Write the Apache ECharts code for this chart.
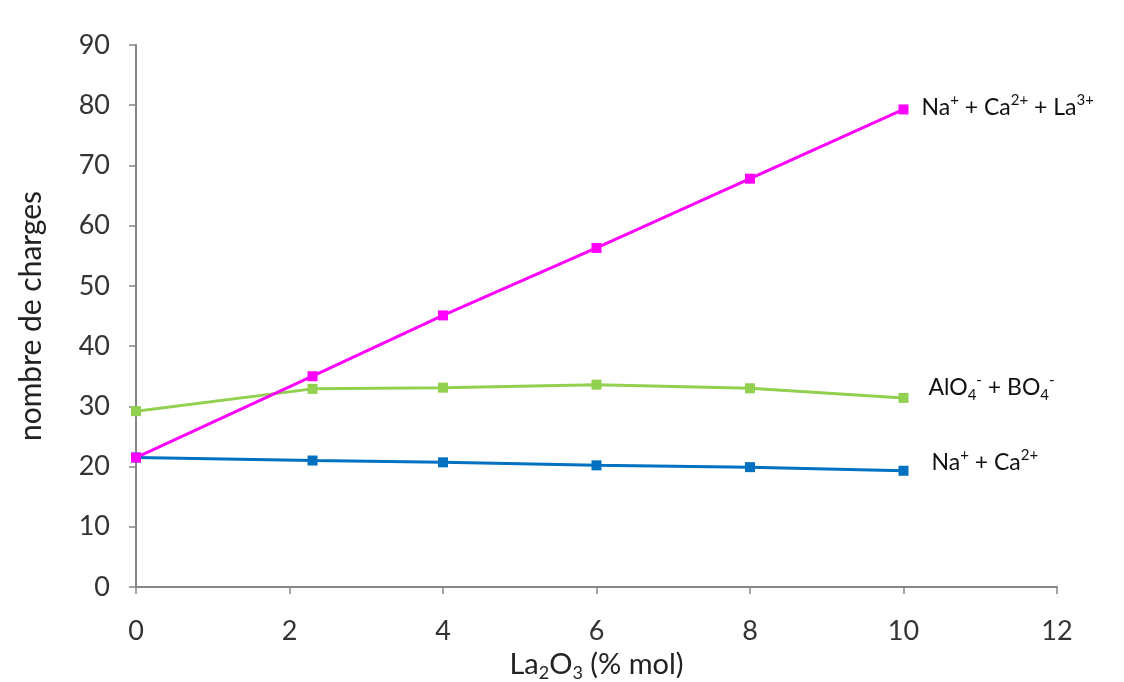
<!DOCTYPE html>
<html>
<head>
<meta charset="utf-8">
<script src="https://cdn.jsdelivr.net/npm/echarts@6/dist/echarts.min.js"></script>
<style>
html,body{margin:0;padding:0;background:#fff;}
#c{width:1124px;height:682px;}
</style>
</head>
<body>
<div id="c"></div>
<script>
var xValues = [0, 2.3, 4, 6, 8, 10];
var naCaLa = [21.5, 35.0, 45.1, 56.3, 67.8, 79.3];
var alBo = [29.2, 32.9, 33.1, 33.6, 33.0, 31.4];
var naCa = [21.5, 21.0, 20.7, 20.2, 19.9, 19.3];
var seriesNames = ['Na+ + Ca2+ + La3+', 'AlO4- + BO4-', 'Na+ + Ca2+'];
var yName = 'nombre de charges';

function pairs(ys){ return xValues.map(function(x,i){ return [x, ys[i]]; }); }

var FONT = 'Lato, "Open Sans", sans-serif';
var rich = {
  b: {fontSize: 23, fontFamily: FONT, color: '#111', lineHeight: 30, verticalAlign: 'middle'},
  sup: {fontSize: 15, fontFamily: FONT, color: '#111', lineHeight: 30, verticalAlign: 'top', padding:[0,0,0,0]},
  sub: {fontSize: 15, fontFamily: FONT, color: '#111', lineHeight: 30, verticalAlign: 'bottom'}
};

var labels = [
  '{b|Na}{sup|+}{b| + Ca}{sup|2+}{b| + La}{sup|3+}',
  '{b|AlO}{sub|4}{sup|-}{b| + BO}{sub|4}{sup|-}',
  '{b|Na}{sup|+}{b| + Ca}{sup|2+}'
];
var colors = ['#FF00FF', '#92D050', '#0070C0'];
var data = [naCaLa, alBo, naCa];
var offsets = [[10, -2], [17, -10], [20, -8]];

var series = data.map(function(d, i){
  return {
    name: seriesNames[i],
    type: 'line',
    data: pairs(d),
    symbol: 'rect',
    symbolSize: 10,
    showAllSymbol: true,
    lineStyle: {color: colors[i], width: 3},
    itemStyle: {color: colors[i]},
    z: i === 0 ? 5 : 3,
    endLabel: {
      show: true,
      formatter: labels[i],
      rich: rich,
      distance: 8,
      offset: offsets[i]
    },
    animation: false
  };
});

var chart = echarts.init(document.getElementById('c'));
chart.setOption({
  backgroundColor: '#fff',
  animation: false,
  grid: {left: 136, right: 67, top: 45, bottom: 95, containLabel: false, outerBoundsMode: 'none'},
  xAxis: {
    type: 'value', min: 0, max: 12, interval: 2,
    name: '{b|La}{sub|2}{b|O}{sub|3}{b| (% mol)}',
    nameLocation: 'middle', nameGap: 55,
    nameTextStyle: {rich: {
      b: {fontSize: 29, fontFamily: FONT, color: '#222', lineHeight: 36, verticalAlign: 'middle'},
      sub: {fontSize: 18, fontFamily: FONT, color: '#222', lineHeight: 36, verticalAlign: 'bottom'}
    }},
    axisLine: {lineStyle: {color: '#868686', width: 2}},
    axisTick: {show: true, inside: false, length: 7, lineStyle: {color: '#868686', width: 1.5}},
    axisLabel: {fontSize: 27, fontFamily: FONT, color: '#333', margin: 31},
    splitLine: {show: false}
  },
  yAxis: {
    type: 'value', min: 0, max: 90, interval: 10,
    name: yName,
    nameLocation: 'middle', nameGap: 90,
    nameTextStyle: {fontSize: 30, fontFamily: FONT, color: '#222'},
    axisLine: {show: true, lineStyle: {color: '#868686', width: 2}},
    axisTick: {show: true, inside: false, length: 7, lineStyle: {color: '#868686', width: 1.5}},
    axisLabel: {fontSize: 27, fontFamily: FONT, color: '#333', margin: 26},
    splitLine: {show: false}
  },
  series: series
});
</script>
</body>
</html>
